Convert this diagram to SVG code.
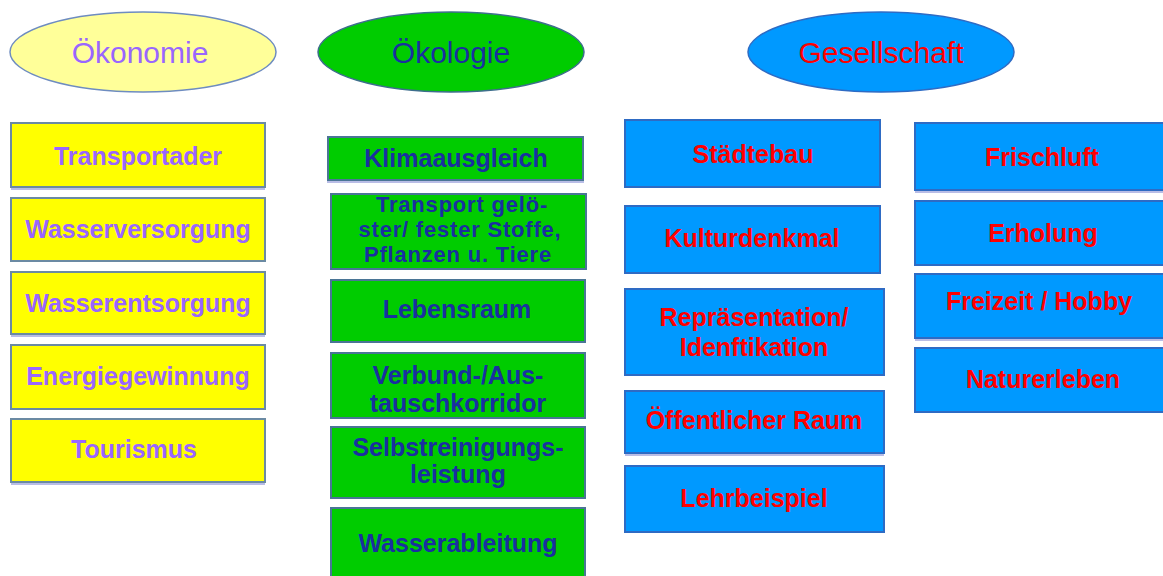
<svg xmlns="http://www.w3.org/2000/svg" width="1163" height="576" viewBox="0 0 1163 576">
<style>
text{font-family:"Liberation Sans",Arial,sans-serif;text-anchor:middle}
.h{font-size:30px}
.t{font-size:25px;font-weight:bold}
.t3{font-size:22px;font-weight:bold;letter-spacing:0.8px}
.eco rect{fill:#FFFF00;stroke:#6B8AA3;stroke-width:2}
.eco text{fill:#9966FF}
.oko rect{fill:#00CC00;stroke:#4A7596;stroke-width:2}
.oko text{fill:#1A2FA0}
.ges rect{fill:#0099FF;stroke:#2E6BC4;stroke-width:2}
.ges text{fill:#FF0000}
.sh{stroke:#B9BDE6;stroke-width:2}
</style>
<rect width="1163" height="576" fill="#FFFFFF"/>
<g id="connectors"/>
<g id="h-oekonomie"><ellipse cx="143" cy="52" rx="133" ry="40" fill="#FFFF99" stroke="#6E8CC0" stroke-width="1.5"/><text class="h" x="140" y="63" fill="#9966FF">Ökonomie</text></g>
<g id="h-oekologie"><ellipse cx="451" cy="52" rx="133" ry="40" fill="#00CC00" stroke="#3D6E8C" stroke-width="1.5"/><text class="h" x="451" y="63" fill="#1A2FA0">Ökologie</text></g>
<g id="h-gesellschaft"><ellipse cx="881" cy="52" rx="133" ry="40" fill="#0099FF" stroke="#2E6BC4" stroke-width="1.5"/><text class="h" x="881" y="63" fill="#FF0000">Gesellschaft</text></g>

<g class="eco">
<g id="e1"><rect x="11" y="123" width="254" height="64"/><line class="sh" x1="11" y1="189" x2="265" y2="189"/><text class="t" x="138" y="165">Transportader</text></g>
<g id="e2"><rect x="11" y="198" width="254" height="63"/><text class="t" x="138" y="238">Wasserversorgung</text></g>
<g id="e3"><rect x="11" y="272" width="254" height="62"/><line class="sh" x1="11" y1="336" x2="265" y2="336"/><text class="t" x="138" y="312">Wasserentsorgung</text></g>
<g id="e4"><rect x="11" y="345" width="254" height="64"/><text class="t" x="138" y="385">Energiegewinnung</text></g>
<g id="e5"><rect x="11" y="419" width="254" height="63"/><line class="sh" x1="11" y1="484" x2="265" y2="484"/><text class="t" x="134" y="458">Tourismus</text></g>
</g>

<g class="oko">
<g id="o1"><rect x="328" y="137" width="255" height="43"/><line class="sh" x1="327" y1="182" x2="584" y2="182"/><text class="t" x="456" y="167">Klimaausgleich</text></g>
<g id="o2"><rect x="331" y="194" width="255" height="75"/><text class="t3" x="462" y="212">Transport gelö-</text><text class="t3" x="460" y="237">ster/ fester Stoffe,</text><text class="t3" x="458" y="262">Pflanzen u. Tiere</text></g>
<g id="o3"><rect x="331" y="280" width="254" height="62"/><text class="t" x="457" y="318">Lebensraum</text></g>
<g id="o4"><rect x="331" y="353" width="254" height="65"/><text class="t" x="458" y="384">Verbund-/Aus-</text><text class="t" x="458" y="412">tauschkorridor</text></g>
<g id="o5"><rect x="331" y="427" width="254" height="71"/><text class="t" x="458" y="456">Selbstreinigungs-</text><text class="t" x="458" y="483">leistung</text></g>
<g id="o6"><rect x="331" y="508" width="254" height="70"/><text class="t" x="458" y="552">Wasserableitung</text></g>
</g>

<g class="ges">
<g id="g1"><rect x="625" y="120" width="255" height="67"/><text class="t" x="753" y="163">Städtebau</text></g>
<g id="g2"><rect x="625" y="206" width="255" height="67"/><text class="t" x="752" y="247">Kulturdenkmal</text></g>
<g id="g3"><rect x="625" y="289" width="259" height="86"/><text class="t" x="754" y="326">Repräsentation/</text><text class="t" x="754" y="356">Idenftikation</text></g>
<g id="g4"><rect x="625" y="391" width="259" height="62"/><line class="sh" x1="625" y1="455" x2="884" y2="455"/><text class="t" x="754" y="429">Öffentlicher Raum</text></g>
<g id="g5"><rect x="625" y="466" width="259" height="66"/><text class="t" x="754" y="507">Lehrbeispiel</text></g>
<g id="s1"><rect x="915" y="123" width="258" height="67"/><line class="sh" x1="915" y1="192" x2="1163" y2="192"/><text class="t" x="1042" y="166">Frischluft</text></g>
<g id="s2"><rect x="915" y="201" width="258" height="64"/><text class="t" x="1043" y="242">Erholung</text></g>
<g id="s3"><rect x="915" y="274" width="258" height="64"/><line class="sh" x1="915" y1="340" x2="1163" y2="340"/><text class="t" x="1039" y="310">Freizeit / Hobby</text></g>
<g id="s4"><rect x="915" y="348" width="258" height="64"/><text class="t" x="1043" y="388">Naturerleben</text></g>
</g>
</svg>
